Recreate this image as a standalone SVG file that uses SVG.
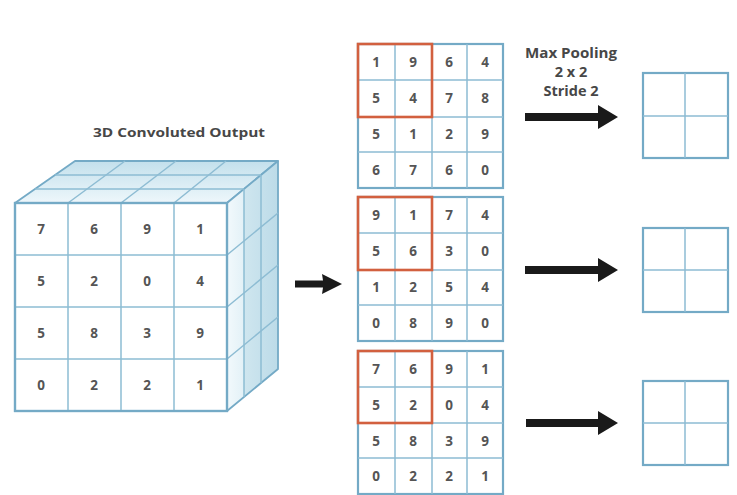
<svg xmlns="http://www.w3.org/2000/svg" width="737" height="495" viewBox="0 0 737 495">
<defs>
<style>
.bg{fill:#ffffff}
.num{font-family:"Open Sans","Liberation Sans",sans-serif;font-weight:bold;font-size:13.5px;fill:#555555;text-anchor:middle;dominant-baseline:central}
.lbl{font-family:"Open Sans","Liberation Sans",sans-serif;font-weight:bold;font-size:13px;fill:#474747;text-anchor:middle}
.plbl{font-family:"Open Sans","Liberation Sans",sans-serif;font-weight:bold;font-size:14.5px;fill:#474747;text-anchor:middle}
.outer{fill:#ffffff;stroke:#74aac6;stroke-width:2.2}
.inner{stroke:#8dbcd3;stroke-width:1.5;fill:none}
.red{fill:none;stroke:#d2603f;stroke-width:2.6}
.edge{stroke:#74aac6;stroke-width:1.8;stroke-linejoin:round}
.arrow{fill:#1a1a1a}
</style>
<linearGradient id="topG" x1="0" y1="1" x2="0" y2="0">
<stop offset="0" stop-color="#eef7fb"/>
<stop offset="1" stop-color="#c3e0ec"/>
</linearGradient>
<linearGradient id="sideG" x1="0" y1="0" x2="1" y2="0">
<stop offset="0" stop-color="#f2f9fc"/>
<stop offset="0.33" stop-color="#e3f1f7"/>
<stop offset="0.34" stop-color="#cfe6ef"/>
<stop offset="1" stop-color="#bcdbe8"/>
</linearGradient>
</defs>
<rect class="bg" x="0" y="0" width="737" height="495"/>

<g id="title-cube">
<text class="lbl" x="179" y="137" textLength="172" lengthAdjust="spacingAndGlyphs">3D Convoluted Output</text>
</g>

<g id="cube">
<polygon points="15,203 227,203 278,161 75,161" fill="url(#topG)" class="edge"/>
<polygon points="227,203 278,161 278,369 227,411" fill="url(#sideG)" class="edge"/>
<line class="inner" x1="35" y1="189" x2="244" y2="189"/>
<line class="inner" x1="55" y1="175" x2="261" y2="175"/>
<line class="inner" x1="68" y1="203" x2="125" y2="161"/>
<line class="inner" x1="121" y1="203" x2="176" y2="161"/>
<line class="inner" x1="174" y1="203" x2="226" y2="161"/>
<line class="inner" x1="244" y1="189" x2="244" y2="397"/>
<line class="inner" x1="261" y1="175" x2="261" y2="383"/>
<line class="inner" x1="227" y1="255" x2="278" y2="213"/>
<line class="inner" x1="227" y1="307" x2="278" y2="265"/>
<line class="inner" x1="227" y1="359" x2="278" y2="317"/>
<rect class="outer" x="15" y="203" width="212" height="208"/>
<line class="inner" x1="68" y1="203" x2="68" y2="411"/>
<line class="inner" x1="121" y1="203" x2="121" y2="411"/>
<line class="inner" x1="174" y1="203" x2="174" y2="411"/>
<line class="inner" x1="15" y1="255" x2="227" y2="255"/>
<line class="inner" x1="15" y1="307" x2="227" y2="307"/>
<line class="inner" x1="15" y1="359" x2="227" y2="359"/>
<rect x="15" y="203" width="212" height="208" fill="none" stroke="#74aac6" stroke-width="2.2"/>
<text class="num" x="41" y="229">7</text><text class="num" x="94" y="229">6</text><text class="num" x="147" y="229">9</text><text class="num" x="200" y="229">1</text>
<text class="num" x="41" y="281">5</text><text class="num" x="94" y="281">2</text><text class="num" x="147" y="281">0</text><text class="num" x="200" y="281">4</text>
<text class="num" x="41" y="333">5</text><text class="num" x="94" y="333">8</text><text class="num" x="147" y="333">3</text><text class="num" x="200" y="333">9</text>
<text class="num" x="41" y="385">0</text><text class="num" x="94" y="385">2</text><text class="num" x="147" y="385">2</text><text class="num" x="200" y="385">1</text>
</g>

<g id="grid1">
<rect class="outer" x="358" y="44" width="145" height="144"/>
<path class="inner" d="M395,44V188M432,44V188M467,44V188M358,80H503M358,117H503M358,152H503"/>
<rect class="red" x="358" y="44" width="74" height="73"/>
<text class="num" x="376" y="62">1</text><text class="num" x="413" y="62">9</text><text class="num" x="449" y="62">6</text><text class="num" x="485" y="62">4</text>
<text class="num" x="376" y="98">5</text><text class="num" x="413" y="98">4</text><text class="num" x="449" y="98">7</text><text class="num" x="485" y="98">8</text>
<text class="num" x="376" y="134">5</text><text class="num" x="413" y="134">1</text><text class="num" x="449" y="134">2</text><text class="num" x="485" y="134">9</text>
<text class="num" x="376" y="170">6</text><text class="num" x="413" y="170">7</text><text class="num" x="449" y="170">6</text><text class="num" x="485" y="170">0</text>
</g>

<g id="grid2">
<rect class="outer" x="358" y="197" width="145" height="144"/>
<path class="inner" d="M395,197V341M432,197V341M467,197V341M358,233H503M358,270H503M358,305H503"/>
<rect class="red" x="358" y="197" width="74" height="73"/>
<text class="num" x="376" y="215">9</text><text class="num" x="413" y="215">1</text><text class="num" x="449" y="215">7</text><text class="num" x="485" y="215">4</text>
<text class="num" x="376" y="251">5</text><text class="num" x="413" y="251">6</text><text class="num" x="449" y="251">3</text><text class="num" x="485" y="251">0</text>
<text class="num" x="376" y="287">1</text><text class="num" x="413" y="287">2</text><text class="num" x="449" y="287">5</text><text class="num" x="485" y="287">4</text>
<text class="num" x="376" y="323">0</text><text class="num" x="413" y="323">8</text><text class="num" x="449" y="323">9</text><text class="num" x="485" y="323">0</text>
</g>

<g id="grid3">
<rect class="outer" x="358" y="351" width="145" height="143"/>
<path class="inner" d="M395,351V494M432,351V494M467,351V494M358,387H503M358,423H503M358,458H503"/>
<rect class="red" x="358" y="351" width="74" height="72"/>
<text class="num" x="376" y="369">7</text><text class="num" x="413" y="369">6</text><text class="num" x="449" y="369">9</text><text class="num" x="485" y="369">1</text>
<text class="num" x="376" y="405">5</text><text class="num" x="413" y="405">2</text><text class="num" x="449" y="405">0</text><text class="num" x="485" y="405">4</text>
<text class="num" x="376" y="441">5</text><text class="num" x="413" y="441">8</text><text class="num" x="449" y="441">3</text><text class="num" x="485" y="441">9</text>
<text class="num" x="376" y="476">0</text><text class="num" x="413" y="476">2</text><text class="num" x="449" y="476">2</text><text class="num" x="485" y="476">1</text>
</g>

<g id="pool-label">
<text class="plbl" x="571" y="58" textLength="92" lengthAdjust="spacingAndGlyphs">Max Pooling</text>
<text class="plbl" x="571" y="77">2 x 2</text>
<text class="plbl" x="571" y="96">Stride 2</text>
</g>

<g id="pool1">
<rect class="outer" x="643" y="73" width="85" height="85"/>
<path class="inner" d="M685,73V158M643,116H728"/>
</g>
<g id="pool2">
<rect class="outer" x="643" y="228" width="85" height="84"/>
<path class="inner" d="M685,228V312M643,270H728"/>
</g>
<g id="pool3">
<rect class="outer" x="643" y="381" width="85" height="84"/>
<path class="inner" d="M685,381V465M643,423H728"/>
</g>

<g id="connectors">
<polygon class="arrow" points="295,280.5 323,280.5 322,274 342,284 322,294 323,287.5 295,287.5"/>
<polygon class="arrow" points="525,113 598,113 598,105 618,117 598,129 598,121 525,121"/>
<polygon class="arrow" points="525,266 598,266 598,258 618,270 598,282 598,274 525,274"/>
<polygon class="arrow" points="526,419 598,419 598,411 618,423 598,435 598,427 526,427"/>
</g>
</svg>
